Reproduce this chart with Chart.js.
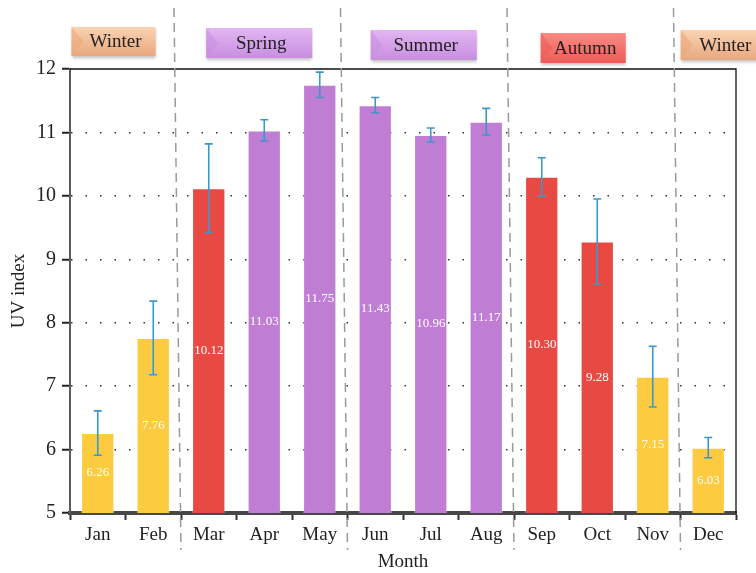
<!DOCTYPE html>
<html>
<head>
<meta charset="utf-8">
<script src="https://cdn.jsdelivr.net/npm/chart.js@4"></script>
<style>
  html, body { margin: 0; padding: 0; background: #fff; }
  #wrap { width: 756px; height: 573px; }
</style>
</head>
<body>
<div id="wrap"><canvas id="uvChart" width="756" height="573"></canvas></div>
<script>
// ---- data ----
const months = ['Jan', 'Feb', 'Mar', 'Apr', 'May', 'Jun', 'Jul', 'Aug', 'Sep', 'Oct', 'Nov', 'Dec'];
const uvMean = [6.26, 7.76, 10.12, 11.03, 11.75, 11.43, 10.96, 11.17, 10.30, 9.28, 7.15, 6.03];
const uvErr = [0.35, 0.58, 0.70, 0.17, 0.20, 0.12, 0.11, 0.21, 0.30, 0.67, 0.48, 0.16];
const yTicks = [5, 6, 7, 8, 9, 10, 11, 12];
const seasonNames = ['Winter', 'Spring', 'Summer', 'Autumn', 'Winter'];
const seasonFirst = [0, 2, 5, 8, 11];
const seasonLast = [1, 4, 7, 10, 11];

// ---- styles ----
const YELLOW = '#fccb3f', RED = '#e84a43', PURPLE = '#bf7dd4';
const barColors = [YELLOW, YELLOW, RED, PURPLE, PURPLE, PURPLE, PURPLE, PURPLE, RED, RED, YELLOW, YELLOW];
const FONT = '"Liberation Serif", "DejaVu Serif", serif';

// season badge look: [dx from group centre, top y, width, height, light, dark]
const badgeStyle = [
  [-12, 27, 84, 29, '#fad3b3', '#e8a87e'],
  [-5, 28, 106, 30, '#e2b6f2', '#c88ee0'],
  [-7, 30, 106, 30, '#e2b6f2', '#c88ee0'],
  [-14, 33, 85, 30, '#fb8a84', '#ee5b57'],
  [15, 30, 85, 30, '#fad3b3', '#e8a87e']
];

const extras = {
  id: 'extras',
  afterDatasetsDraw(chart) {
    const ctx = chart.ctx;
    const y = chart.scales.y;
    const meta = chart.getDatasetMeta(0);

    // values inside the bars
    ctx.save();
    ctx.fillStyle = '#fff';
    ctx.font = '13px ' + FONT;
    ctx.textAlign = 'center';
    ctx.textBaseline = 'middle';
    meta.data.forEach((bar, i) => {
      const yMid = (y.getPixelForValue(uvMean[i]) + y.getPixelForValue(5)) / 2;
      ctx.fillText(uvMean[i].toFixed(2), bar.x, yMid);
    });
    ctx.restore();

    // error bars
    ctx.save();
    ctx.strokeStyle = '#3b98cb';
    ctx.lineWidth = 1.6;
    meta.data.forEach((bar, i) => {
      const top = y.getPixelForValue(uvMean[i] + uvErr[i]);
      const bot = y.getPixelForValue(uvMean[i] - uvErr[i]);
      ctx.beginPath();
      ctx.moveTo(bar.x, top); ctx.lineTo(bar.x, bot);
      ctx.moveTo(bar.x - 4, top); ctx.lineTo(bar.x + 4, top);
      ctx.moveTo(bar.x - 4, bot); ctx.lineTo(bar.x + 4, bot);
      ctx.stroke();
    });
    ctx.restore();
  },
  afterDraw(chart) {
    const ctx = chart.ctx;
    const a = chart.chartArea;
    const x = chart.scales.x;
    const half = (x.getPixelForValue(1) - x.getPixelForValue(0)) / 2;

    // thin frame on top and right
    ctx.save();
    ctx.strokeStyle = '#111';
    ctx.lineWidth = 1.3;
    ctx.beginPath();
    ctx.moveTo(a.left, a.top); ctx.lineTo(a.right, a.top); ctx.lineTo(a.right, a.bottom);
    ctx.stroke();
    ctx.restore();

    // dashed season separators
    ctx.save();
    ctx.strokeStyle = '#9a9a9a';
    ctx.lineWidth = 1.5;
    ctx.setLineDash([9, 6]);
    seasonFirst.slice(1).forEach(i => {
      const bx = x.getPixelForValue(i) - half;
      ctx.beginPath();
      ctx.moveTo(bx - 7, 8);
      ctx.lineTo(bx, 550);
      ctx.stroke();
    });
    ctx.restore();

    // season badges
    seasonNames.forEach((name, s) => {
      const [dx, top, w, h, light, dark] = badgeStyle[s];
      const cx = (x.getPixelForValue(seasonFirst[s]) + x.getPixelForValue(seasonLast[s])) / 2 + dx;
      const left = cx - w / 2;
      ctx.save();
      ctx.shadowColor = 'rgba(0,0,0,0.25)';
      ctx.shadowOffsetY = 2;
      ctx.shadowBlur = 3;
      const g = ctx.createLinearGradient(0, top, 0, top + h);
      g.addColorStop(0, light);
      g.addColorStop(1, dark);
      ctx.fillStyle = g;
      ctx.fillRect(left, top, w, h);
      ctx.restore();
      // bevel on the left side
      ctx.save();
      ctx.fillStyle = dark;
      ctx.globalAlpha = 0.55;
      ctx.beginPath();
      ctx.moveTo(left, top); ctx.lineTo(left + 12, top + h / 2); ctx.lineTo(left, top + h);
      ctx.closePath();
      ctx.fill();
      ctx.restore();
      ctx.save();
      ctx.fillStyle = '#222';
      ctx.font = '19px ' + FONT;
      ctx.textAlign = 'center';
      ctx.textBaseline = 'middle';
      ctx.fillText(name, cx + 2, top + h / 2 + 1);
      ctx.restore();
    });
  }
};

new Chart(document.getElementById('uvChart'), {
  type: 'bar',
  data: {
    labels: months,
    datasets: [{
      data: uvMean,
      backgroundColor: barColors,
      borderColor: 'rgba(255,255,255,0.35)',
      borderWidth: 1,
      borderSkipped: 'bottom',
      barPercentage: 0.6,
      categoryPercentage: 1
    }]
  },
  options: {
    responsive: false,
    animation: false,
    layout: { padding: { top: 69, right: 20, left: 0, bottom: 0 } },
    plugins: { legend: { display: false }, tooltip: { enabled: false } },
    scales: {
      x: {
        offset: true,
        afterFit(scale) { scale.height = 60; },
        grid: {
          offset: true,
          drawOnChartArea: false,
          tickLength: 7,
          tickColor: '#333',
          tickWidth: 2
        },
        border: { color: '#474747', width: 4 },
        ticks: { color: '#222', font: { family: FONT, size: 19 }, padding: 4 },
        title: { display: true, text: 'Month', color: '#222', font: { family: FONT, size: 19 }, padding: { top: -6, bottom: 0 } }
      },
      y: {
        min: 5,
        max: 12,
        afterFit(scale) { scale.width = 70; },
        afterBuildTicks(scale) { scale.ticks = yTicks.map(v => ({ value: v })); },
        grid: {
          color: ctx => (ctx.tick && (ctx.tick.value === 5 || ctx.tick.value === 12)) ? 'rgba(0,0,0,0)' : '#333',
          lineWidth: 1.5,
          tickLength: 8,
          tickColor: '#222',
          tickWidth: 2,
          tickBorderDash: []
        },
        border: { color: '#5a5a5a', width: 2, dash: [1.5, 13] },
        ticks: { color: '#222', font: { family: FONT, size: 20 }, padding: 6 },
        title: { display: true, text: 'UV index', color: '#222', font: { family: FONT, size: 19 }, padding: { top: 8, bottom: 4 } }
      }
    }
  },
  plugins: [extras]
});
</script>
</body>
</html>
